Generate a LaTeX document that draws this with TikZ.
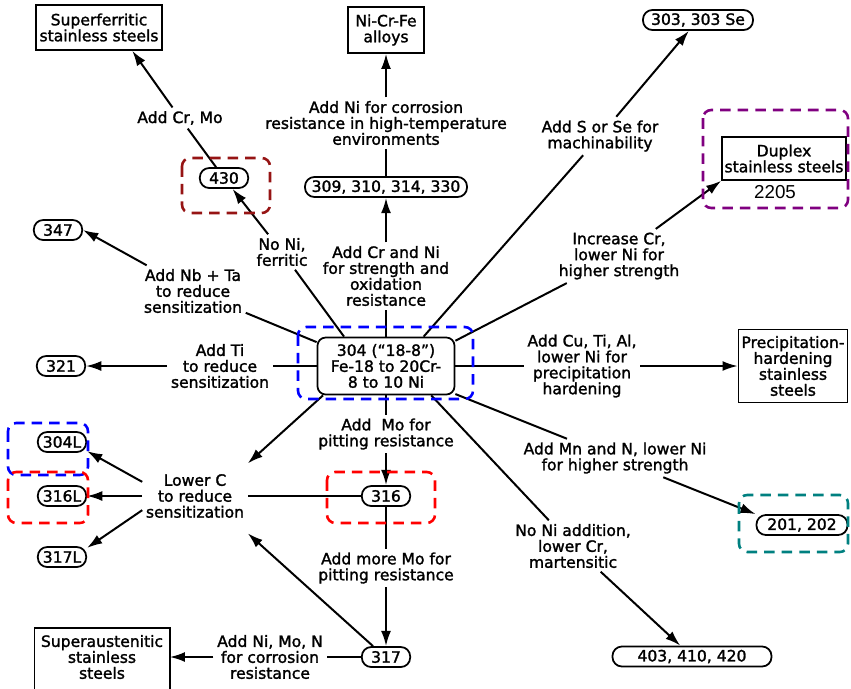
\documentclass[tikz,border=0pt]{standalone}
\usepackage{fontspec}
\setmainfont{DejaVu Sans}[FakeBold = 1.6]
\newfontfamily\numfont{Liberation Sans}
\usetikzlibrary{arrows.meta}
\definecolor{markblue}{RGB}{0,0,255}
\definecolor{markred}{RGB}{255,0,0}
\definecolor{markmaroon}{RGB}{150,20,20}
\definecolor{markpurple}{RGB}{128,0,128}
\definecolor{markteal}{RGB}{0,128,128}

\begin{document}
\begin{tikzpicture}[x = 0.03cm, y = -0.03cm,
    every node/.style = {font = \fontsize{13.3}{13.6}\selectfont, align = center},
    grade/.style = {draw, line width = 1.5pt, rounded corners = 8pt,
                    minimum width = 1.45cm, minimum height = 0.6cm,
                    inner xsep = 3pt, inner ysep = 1pt},
    family/.style = {draw, line width = 1.3pt, inner sep = 2pt},
    base/.style = {draw, line width = 1.5pt, rounded corners = 7pt, inner sep = 2pt,
                   minimum width = 4.11cm, minimum height = 1.71cm},
    change/.style = {inner sep = 3pt},
    link/.style = {line width = 1.7pt},
    arr/.style = {link, -{Latex[length = 13pt, width = 8.5pt]}},
    hilite/.style = {line width = 2.2pt, dash pattern = on 9pt off 6pt,
                     rounded corners = 7pt}]
  \useasboundingbox (0,0) rectangle (851,688);

  \node[base] (c304) at (386,366) {304 (“18-8”)\\Fe-18 to 20Cr-\\8 to 10 Ni};

  \node[family, minimum width = 3.78cm, minimum height = 1.35cm] (superferritic)
    at (99,27.5) {Superferritic\\stainless steels};
  \node[family, minimum width = 2.28cm, minimum height = 1.38cm] (nicrfe)
    at (386,30) {Ni-Cr-Fe\\alloys};
  \node[family, minimum width = 3.72cm, minimum height = 1.29cm] (duplex)
    at (784,158.5) {Duplex\\stainless steels};
  \node[font = \numfont\fontsize{16}{16}\selectfont] (n2205) at (775,192) {2205};
  \node[family, minimum width = 3.27cm, minimum height = 2.19cm] (precip)
    at (793,366) {Precipitation-\\hardening\\stainless\\steels};
  \node[minimum width = 4.05cm, minimum height = 1.74cm] (supaus)
    at (102,657) {Superaustenitic\\stainless\\steels};
  \draw[line width = 1.3pt] ([yshift = -12pt]supaus.south west) |- (supaus.north east)
    -- ([yshift = -12pt]supaus.south east);

  \node[grade] (p430) at (224,178) {430};
  \node[grade] (p347) at (58,230) {347};
  \node[grade] (p321) at (61,366) {321};
  \node[grade] (p304L) at (62,442) {304L};
  \node[grade] (p316L) at (62,496) {316L};
  \node[grade] (p317L) at (62,557) {317L};
  \node[grade] (p316) at (386,496) {316};
  \node[grade] (p317) at (386,657) {317};
  \node[grade, minimum width = 4.86cm] (p309) at (386,187) {309, 310, 314, 330};
  \node[grade, minimum width = 3.3cm] (p303) at (698,20) {303, 303 Se};
  \node[grade, minimum width = 2.73cm] (p201) at (802,525) {201, 202};
  \node[grade, minimum width = 4.77cm] (p403) at (692,656.5) {403, 410, 420};

  \node[change] (lCrMo) at (180,118) {Add Cr, Mo};
  \node[change] (lNoNi) at (282,252) {No Ni,\\ferritic};
  \node[change] (lCrNi) at (386,276) {Add Cr and Ni\\for strength and\\oxidation\\resistance};
  \node[change] (lNiHT) at (386,123) {Add Ni for corrosion\\resistance in high-temperature\\environments};
  \node[change] (lSSe) at (600,136) {Add S or Se for\\machinability};
  \node[change] (lIncCr) at (619,256) {Increase Cr,\\lower Ni for\\higher strength};
  \node[change] (lCuTi) at (582,366) {Add Cu, Ti, Al,\\lower Ni for\\precipitation\\hardening};
  \node[change] (lMnN) at (615,458) {Add Mn and N, lower Ni\\for higher strength};
  \node[change] (lMart) at (573,546) {No Ni addition,\\lower Cr,\\martensitic};
  \node[change] (lMo) at (386,434) {Add~~Mo for\\pitting resistance};
  \node[change] (lMoreMo) at (386,568) {Add more Mo for\\pitting resistance};
  \node[change] (lNbTa) at (193,291) {Add Nb + Ta\\to reduce\\sensitization};
  \node[change] (lTi) at (220,366) {Add Ti\\to reduce\\sensitization};
  \node[change] (lowC) at (195,496) {Lower C\\to reduce\\sensitization};
  \node[change] (lNiMoN) at (270,657) {Add Ni, Mo, N\\for corrosion\\resistance};

  \draw[link] (p430) -- (lCrMo);
  \draw[arr] (lCrMo) -- (superferritic.-35);
  \draw[link] (c304.145) -- (lNoNi);
  \draw[arr] (lNoNi) -- (p430);
  \draw[link] (c304.north) -- (lCrNi);
  \draw[arr] (lCrNi) -- (p309.south);
  \draw[link] (p309.north) -- (lNiHT);
  \draw[arr] (lNiHT) -- (nicrfe.south);
  \draw[link] (c304.38) -- (lSSe);
  \draw[arr] (lSSe) -- (p303);
  \draw[link] (c304.20) -- (lIncCr);
  \draw[arr] (lIncCr) -- (duplex.south west);
  \draw[link] (c304.east) -- (lCuTi);
  \draw[arr] (lCuTi) -- (precip.west);
  \draw[link] (c304.-22) -- (lMnN);
  \draw[arr] (lMnN) -- (p201.north west);
  \draw[link] (c304.-33) -- (lMart);
  \draw[arr] (lMart) -- (p403);
  \draw[link] (c304.south) -- (lMo);
  \draw[arr] (lMo) -- (p316.north);
  \draw[link] (p316.south) -- (lMoreMo);
  \draw[arr] (lMoreMo) -- (p317.north);
  \draw[link] (c304.161) -- (lNbTa);
  \draw[arr] (lNbTa) -- (p347.east);
  \draw[link] (c304.west) -- (lTi);
  \draw[arr] (lTi) -- (p321.east);
  \draw[link] (p317.west) -- (lNiMoN);
  \draw[arr] (lNiMoN) -- (supaus.east);

  \draw[link] (p316.west) -- (lowC);
  \draw[arr] (c304.205) -- ([yshift = 6pt]lowC.north east);
  \draw[arr] (p317.140) -- ([yshift = -10pt]lowC.south east);
  \foreach \src/\dst in {165/p304L.-20, 180/p316L.east, 195/p317L.20}
  {
    \draw[arr] (lowC.\src) -- (\dst);
  }

  \foreach \col/\xa/\ya/\xb/\yb in {markblue/298/327/473/399, markblue/8/423/88/475,
      markred/8/472/88/523, markred/327/472/435/523, markmaroon/182/158/270/213,
      markpurple/703/110/848/208, markteal/739/495/848/552}
  {
    \draw[hilite, draw = \col] (\xa,\ya) rectangle (\xb,\yb);
  }
\end{tikzpicture}
\end{document}
